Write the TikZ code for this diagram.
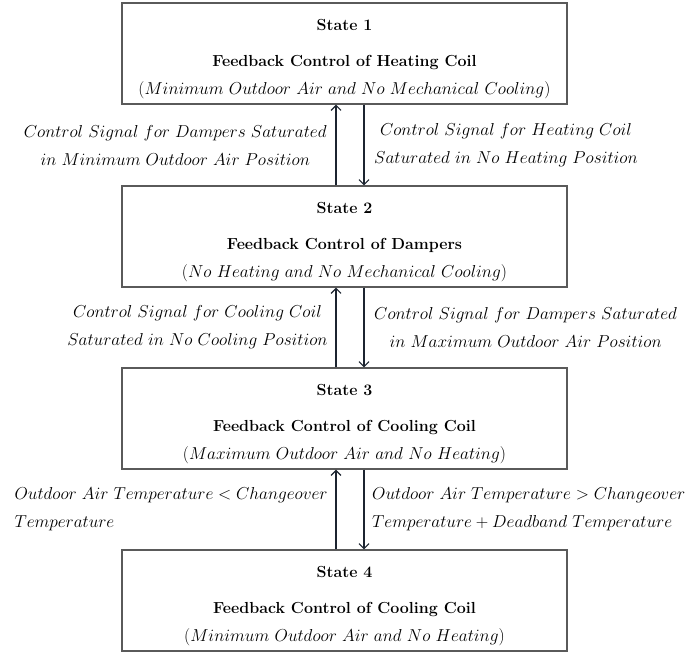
\documentclass[tikz,border=0pt]{standalone}
\usetikzlibrary{arrows.meta}
\definecolor{boxgray}{RGB}{90,90,90}
\definecolor{arrowink}{RGB}{28,36,48}
\newcommand{\titlesize}{\fontsize{16}{32}\selectfont}
\newcommand{\modesize}{\fontsize{17.5}{28}\selectfont}
\newcommand{\condsize}{\fontsize{17}{28}\selectfont}
% three-line content of a state box
\newcommand{\statetext}[3]{\rule{0pt}{22pt}\textbf{#1}\\[3.5pt]\textbf{#2}\\[-4pt]{\modesize$#3$}}
\begin{document}
\begin{tikzpicture}[x=1pt,y=1pt,
  statebox/.style={draw=boxgray, line width=1.1pt, minimum width=445pt,
    minimum height=101pt, inner sep=0pt, align=center, font=\titlesize},
  trans/.style={draw=arrowink, line width=1.2pt,
    -{Straight Barb[length=5pt,width=10pt,line width=1.2pt]}},
  condc/.style={font=\condsize, inner sep=0pt, align=center},
  condl/.style={font=\condsize, inner sep=0pt, align=left}
]
\useasboundingbox (0,0) rectangle (688,-654);

% the four states
\node[statebox] (s1) at (344.5,-53.5)
  {\statetext{State 1}{Feedback Control of Heating Coil}{(Minimum\ Outdoor\ Air\ and\ No\ Mechanical\ Cooling)}};
\node[statebox] (s2) at (344.5,-236.5)
  {\statetext{State 2}{Feedback Control of Dampers}{(No\ Heating\ and\ No\ Mechanical\ Cooling)}};
\node[statebox] (s3) at (344.5,-418.5)
  {\statetext{State 3}{Feedback Control of Cooling Coil}{(Maximum\ Outdoor\ Air\ and\ No\ Heating)}};
\node[statebox] (s4) at (344.5,-600.5)
  {\statetext{State 4}{Feedback Control of Cooling Coil}{(Minimum\ Outdoor\ Air\ and\ No\ Heating)}};

% columns of the upward and downward transitions
\coordinate (up) at (336,0);
\coordinate (dn) at (364,0);

\draw[trans] (s2.north -| up) -- (s1.south -| up);
\draw[trans] (s1.south -| dn) -- (s2.north -| dn);
\draw[trans] (s3.north -| up) -- (s2.south -| up);
\draw[trans] (s2.south -| dn) -- (s3.north -| dn);
\draw[trans] (s4.north -| up) -- (s3.south -| up);
\draw[trans] (s3.south -| dn) -- (s4.north -| dn);

% transition conditions
\node[condc, anchor=east] (c21) at (327,-145)
  {$Control\ Signal\ for\ Dampers\ Saturated$\\$in\ Minimum\ Outdoor\ Air\ Position$};
\node[condc, anchor=west] (c12) at (374,-145)
  {$Control\ Signal\ for\ Heating\ Coil$\\$Saturated\ in\ No\ Heating\ Position$};
\node[condc, anchor=east] (c32) at (328,-327.5)
  {$Control\ Signal\ for\ Cooling\ Coil$\\$Saturated\ in\ No\ Cooling\ Position$};
\node[condc, anchor=west] (c23) at (374,-327.5)
  {$Control\ Signal\ for\ Dampers\ Saturated$\\$in\ Maximum\ Outdoor\ Air\ Position$};
\node[condl, anchor=east] (c43) at (328,-509.5)
  {$Outdoor\ Air\ Temperature < Changeover$\\$Temperature$};
\node[condl, anchor=west] (c34) at (372,-509.5)
  {$Outdoor\ Air\ Temperature > Changeover$\\$Temperature + Deadband\ Temperature$};
\end{tikzpicture}
\end{document}
